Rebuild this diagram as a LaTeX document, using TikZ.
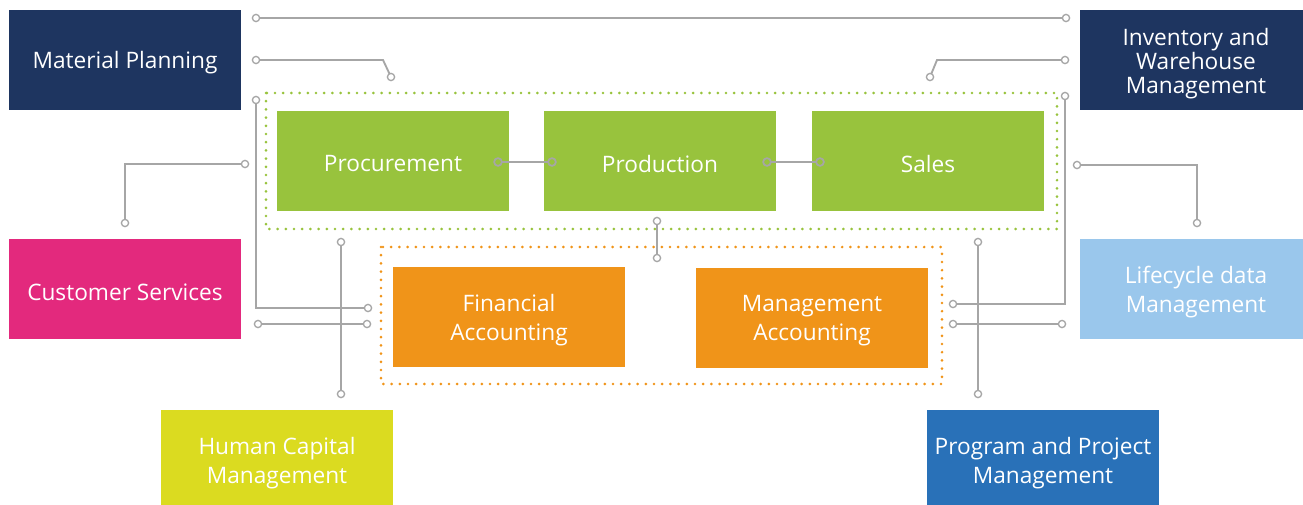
\documentclass[tikz,border=0pt]{standalone}
\usepackage{fontspec}
\setmainfont{Open Sans}
\definecolor{navy}{HTML}{1E3560}
\definecolor{pinkc}{HTML}{E3297D}
\definecolor{lblue}{HTML}{9AC7EC}
\definecolor{yelc}{HTML}{DBDB20}
\definecolor{bluec}{HTML}{2971B8}
\definecolor{greenc}{HTML}{98C33D}
\definecolor{orangec}{HTML}{F09419}
\definecolor{lgray}{HTML}{A6A6A6}
\tikzset{
  box/.style={inner sep=0pt, minimum width=174pt, minimum height=75pt},
  lbl/.style={text=white, align=center, inner sep=0pt, yshift=-2.2pt, font=\fontsize{17pt}{22pt}\selectfont},
  lbltight/.style={lbl, yshift=-0.4pt, font=\fontsize{17pt}{18pt}\selectfont},
  wire/.style={draw=lgray, line width=1.4pt},
  pinc/.style={draw=lgray, fill=white, line width=1pt},
  dotbox/.style={line width=2.2pt, line cap=round, dash pattern=on 0pt off 6.15pt},
}
\begin{document}
\begin{tikzpicture}[x=0.75pt,y=-0.75pt]
\useasboundingbox (0,0) rectangle (1303,504);
\clip (0,0) rectangle (1303,504);
% dotted group frames
\draw[dotbox, greenc] (266,93) rectangle (1057,229);
\draw[dotbox, orangec] (381,247) rectangle (942,384);
% boxes
\node[box, fill=navy, label={[lbl]center:Material Planning}] (mp) at (125,60) {};
\node[box, fill=navy, label={[lbltight]center:Inventory and\\Warehouse\\Management}] (iw) at (1196,60) {};
\node[box, fill=pinkc, label={[lbl]center:Customer Services}] (cs) at (125,289) {};
\node[box, fill=lblue, label={[lbl]center:Lifecycle data\\Management}] (lc) at (1196,289) {};
\node[box, fill=yelc, label={[lbl]center:Human Capital\\Management}] (hc) at (277,460) {};
\node[box, fill=bluec, label={[lbl]center:Program and Project\\Management}] (pp) at (1043,460) {};
\node[box, fill=greenc, label={[lbl]center:Procurement}] (proc) at (393,161) {};
\node[box, fill=greenc, label={[lbl]center:Production}] (prod) at (660,161) {};
\node[box, fill=greenc, label={[lbl]center:Sales}] (sales) at (928,161) {};
\node[box, fill=orangec, label={[lbl]center:Financial\\Accounting}] (fa) at (509,317) {};
\node[box, fill=orangec, label={[lbl]center:Management\\Accounting}] (ma) at (812,318) {};
% connector points
\coordinate (t1a) at (256,18); \coordinate (t1b) at (1066,18);
\coordinate (m1a) at (256,60); \coordinate (m1k) at (383,60); \coordinate (m1b) at (391,77);
\coordinate (i1a) at (1065,60); \coordinate (i1k) at (937,60); \coordinate (i1b) at (930,77);
\coordinate (l1a) at (256,100); \coordinate (l1k) at (256,308); \coordinate (l1b) at (368,308);
\coordinate (l2a) at (258,324); \coordinate (l2b) at (367,324);
\coordinate (lva) at (341,242); \coordinate (lvb) at (341,394);
\coordinate (c1a) at (245,164); \coordinate (c1k) at (125,164); \coordinate (c1b) at (125,223);
\coordinate (r1a) at (1077,165); \coordinate (r1k) at (1197,165); \coordinate (r1b) at (1197,223);
\coordinate (r2a) at (1065,96); \coordinate (r2k) at (1065,304); \coordinate (r2b) at (953,304);
\coordinate (r3a) at (953,324); \coordinate (r3b) at (1062,324);
\coordinate (rva) at (978,242); \coordinate (rvb) at (978,394);
\coordinate (p1a) at (657,221); \coordinate (p1b) at (657,258);
\coordinate (ppa) at (498,162); \coordinate (ppb) at (552,162);
\coordinate (psa) at (767,162); \coordinate (psb) at (820,162);
% wires
\draw[wire] (t1a) -- (t1b);
\draw[wire] (m1a) -- (m1k) -- (m1b);
\draw[wire] (i1a) -- (i1k) -- (i1b);
\draw[wire] (l1a) -- (l1k) -- (l1b);
\draw[wire] (l2a) -- (l2b);
\draw[wire] (lva) -- (lvb);
\draw[wire] (c1a) -- (c1k) -- (c1b);
\draw[wire] (r1a) -- (r1k) -- (r1b);
\draw[wire] (r2a) -- (r2k) -- (r2b);
\draw[wire] (r3a) -- (r3b);
\draw[wire] (rva) -- (rvb);
\draw[wire] (p1a) -- (p1b);
\draw[wire] (ppa) -- (ppb);
\draw[wire] (psa) -- (psb);
% end circles
\foreach \c in {t1a,t1b,m1a,m1b,i1a,i1b,l1a,l1b,l2a,l2b,lva,lvb,c1a,c1b,r1a,r1b,r2a,r2b,r3a,r3b,rva,rvb,p1a,p1b}
  \draw[pinc] (\c) circle (2.7pt);
\foreach \c in {ppa,ppb,psa,psb}
  \draw[pinc, fill=greenc, line width=1.3pt] (\c) circle (2.9pt);
\end{tikzpicture}
\end{document}
